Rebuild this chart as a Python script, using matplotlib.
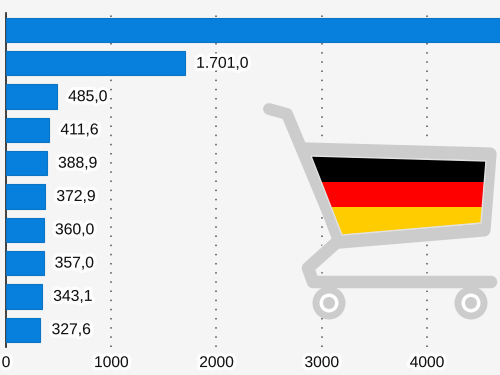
"""Horizontal bar chart with a shopping cart in the German flag colours."""

import matplotlib.patheffects as pe
import matplotlib.pyplot as plt
from matplotlib.patches import Circle, Polygon

plt.rcParams["font.family"] = ["Liberation Sans", "DejaVu Sans"]

# top bar runs off the chart, its value is a guess and its label is not visible
values = [5200, 1701.0, 485.0, 411.6, 388.9, 372.9, 360.0, 357.0, 343.1, 327.6]
value_labels = ["", "1.701,0", "485,0", "411,6", "388,9", "372,9", "360,0", "357,0", "343,1", "327,6"]
x_ticks = [0, 1000, 2000, 3000, 4000]

BG = "#f5f5f5"
BLUE = "#0680dc"
CART = "#cccccc"

fig = plt.figure(figsize=(5, 3.75), dpi=100, facecolor=BG)
ax = fig.add_axes([6 / 500, 28 / 375, 494 / 500, 334 / 375], facecolor=BG)

positions = list(range(len(values)))
ax.barh(positions, values, height=0.73, color=BLUE, edgecolor="#0b74c4", linewidth=0.8, zorder=3)
ax.set_xlim(0, 4694)
ax.set_ylim(9.52, -0.51)

halo = [pe.withStroke(linewidth=5, foreground="white", alpha=0.85)]
for pos, value, label in zip(positions, values, value_labels):
    if label:
        ax.annotate(
            label,
            (value, pos),
            xytext=(8, 0),
            textcoords="offset points",
            va="center",
            ha="left",
            fontsize=11.3,
            color="#111111",
            path_effects=halo,
            zorder=4,
        )

ax.set_xticks(x_ticks)
ax.set_yticks([])
ax.tick_params(axis="x", length=0, pad=5.8, labelsize=11.2, labelcolor="#111111")
for tick_label in ax.get_xticklabels():
    tick_label.set_path_effects(halo)
ax.grid(axis="x", color="#555555", linestyle=(0, (1, 5)), linewidth=1.1, zorder=1)
ax.set_axisbelow(True)
for side in ["top", "right", "bottom"]:
    ax.spines[side].set_visible(False)
ax.spines["left"].set_color("#222222")
ax.spines["left"].set_linewidth(1.2)

# cart icon, drawn on an overlay in pixel coordinates
icon = fig.add_axes([0, 0, 1, 1], facecolor="none")
icon.set_xlim(0, 500)
icon.set_ylim(375, 0)
icon.axis("off")

# soft backing so the gridlines stop around the cart
backing = [(267, 109), (287, 114), (305, 148), (492, 153), (485, 230), (340, 242), (308, 267), (313, 282), (490, 282)]
icon.plot(*zip(*backing), color=BG, lw=12, solid_capstyle="round", solid_joinstyle="round", zorder=1)
icon.add_patch(Polygon([(305, 148), (492, 153), (485, 230), (340, 242)], closed=True, facecolor=BG, zorder=1))

outline = [(305, 149), (490, 154), (484, 230), (340, 242)]
icon.add_patch(Polygon(outline, closed=True, facecolor="none", edgecolor=CART, lw=9.5, joinstyle="round", zorder=2))
icon.plot([269, 287, 340], [109, 114, 241], color=CART, lw=8.5, solid_capstyle="round", solid_joinstyle="round", zorder=2)
icon.plot([336, 308, 313, 491], [243, 268, 282, 282], color=CART, lw=9, solid_capstyle="round", solid_joinstyle="round", zorder=2)

for center in [(329, 303), (471, 303)]:
    icon.add_patch(Circle(center, 16.5, facecolor=CART, edgecolor="none", zorder=2))
    icon.add_patch(Circle(center, 9.5, facecolor="white", edgecolor="none", zorder=3))
    icon.add_patch(Circle(center, 6, facecolor=CART, edgecolor="none", zorder=4))

flag = Polygon([(311, 156), (486, 161), (481, 223), (342, 235)], closed=True, facecolor="none", edgecolor="#e2e2e2", lw=1, zorder=6)
icon.add_patch(flag)
for top, bottom, color in [(150, 182, "#000000"), (182, 207, "#ff0000"), (207, 240, "#ffcc00")]:
    stripe = icon.fill_between([300, 495], top, bottom, color=color, linewidth=0, zorder=5)
    stripe.set_clip_path(flag)

fig.savefig("out.png", dpi=100, facecolor=BG)
